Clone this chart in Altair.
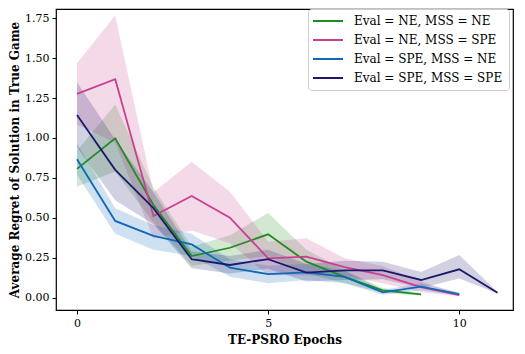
import altair as alt
import pandas as pd

series = ["Eval = NE, MSS = NE", "Eval = NE, MSS = SPE",
          "Eval = SPE, MSS = NE", "Eval = SPE, MSS = SPE"]
colors = ["#228b22", "#c8418f", "#0f68b8", "#1b1a6b"]

ne_ne_mean = [0.806, 0.998, 0.58, 0.26, 0.312, 0.396, 0.225, 0.13, 0.045, 0.02]
ne_ne_low = [0.695, 0.79, 0.47, 0.20, 0.23, 0.26, 0.15, 0.09, 0.03, 0.012]
ne_ne_high = [0.92, 1.21, 0.69, 0.32, 0.39, 0.53, 0.30, 0.17, 0.06, 0.028]

ne_spe_mean = [1.276, 1.368, 0.511, 0.636, 0.50, 0.246, 0.256, 0.19, 0.141, 0.066, 0.016]
ne_spe_low = [1.084, 0.97, 0.37, 0.42, 0.34, 0.14, 0.14, 0.135, 0.09, 0.035, 0.008]
ne_spe_high = [1.468, 1.767, 0.66, 0.851, 0.663, 0.35, 0.371, 0.246, 0.197, 0.10, 0.025]

spe_ne_mean = [0.866, 0.48, 0.386, 0.333, 0.187, 0.147, 0.158, 0.13, 0.032, 0.068, 0.022]
spe_ne_low = [0.77, 0.40, 0.30, 0.26, 0.13, 0.09, 0.11, 0.09, 0.018, 0.045, 0.012]
spe_ne_high = [0.967, 0.56, 0.455, 0.40, 0.24, 0.20, 0.21, 0.17, 0.047, 0.09, 0.032]

spe_spe_mean = [1.144, 0.80, 0.56, 0.24, 0.204, 0.241, 0.156, 0.17, 0.17, 0.11, 0.177, 0.03]
spe_spe_low = [0.94, 0.61, 0.46, 0.183, 0.15, 0.18, 0.10, 0.11, 0.115, 0.06, 0.12, 0.025]
spe_spe_high = [1.349, 0.99, 0.66, 0.29, 0.26, 0.30, 0.21, 0.23, 0.225, 0.16, 0.266, 0.035]

x_ticks = [0, 5, 10]
y_ticks = [0.0, 0.25, 0.5, 0.75, 1.0, 1.25, 1.5, 1.75]

rows = []
for name, m, lo, hi in [
    (series[0], ne_ne_mean, ne_ne_low, ne_ne_high),
    (series[1], ne_spe_mean, ne_spe_low, ne_spe_high),
    (series[2], spe_ne_mean, spe_ne_low, spe_ne_high),
    (series[3], spe_spe_mean, spe_spe_low, spe_spe_high),
]:
    for i, (a, b, c) in enumerate(zip(m, lo, hi)):
        rows.append({"epoch": i, "series": name, "mean": a, "low": b, "high": c})
df = pd.DataFrame(rows)

FONT = "DejaVu Serif"

xscale = alt.Scale(domain=[-0.549, 11.405], nice=False, zero=False)
yscale = alt.Scale(domain=[-0.078, 1.808], nice=False, zero=False)
color = alt.Color("series:N", scale=alt.Scale(domain=series, range=colors),
                  legend=alt.Legend(title=None, orient="none", legendX=252, legendY=0))

base = alt.Chart(df)

band = base.mark_area(opacity=0.2).encode(
    x=alt.X("epoch:Q", scale=xscale),
    y=alt.Y("low:Q", scale=yscale),
    y2="high:Q",
    color=color,
)

line = base.mark_line(strokeWidth=1.8).encode(
    x=alt.X("epoch:Q", scale=xscale,
            axis=alt.Axis(values=x_ticks, title="TE-PSRO Epochs", format="d")),
    y=alt.Y("mean:Q", scale=yscale,
            axis=alt.Axis(values=y_ticks, title="Average Regret of Solution in True Game",
                          format=".2f")),
    color=color,
)

chart = alt.layer(band, line).properties(
    width=457, height=301,
    autosize=alt.AutoSizeParams(type="none"),
    padding={"left": 48, "top": 1, "right": 4, "bottom": 36},
).configure_view(stroke="black", strokeWidth=1.2).configure_axis(
    grid=False, domain=False, tickColor="black", tickSize=4, tickWidth=1,
    labelFont=FONT, labelFontSize=11, labelColor="black", labelPadding=3,
    titleFont=FONT, titleFontSize=12, titleFontWeight="bold", titleColor="black",
).configure_axisY(titlePadding=3).configure_axisX(titlePadding=6).configure_legend(
    symbolType="M-1.4,0H4.6", symbolSize=100, symbolStrokeWidth=2, symbolOpacity=1,
    labelFont=FONT, labelFontSize=12, labelColor="black", labelOffset=28,
    padding=6, rowPadding=7, strokeColor="#cccccc", fillColor="white",
    cornerRadius=3,
)

chart.save("out.html", embed_options={"renderer": "svg", "actions": False})
